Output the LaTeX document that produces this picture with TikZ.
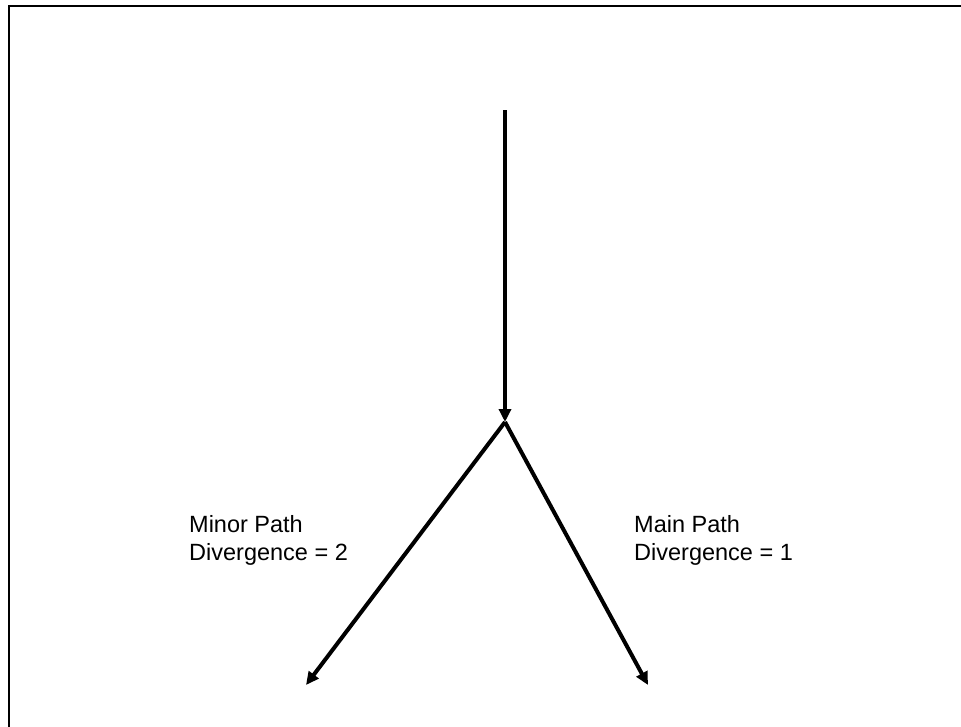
\documentclass[tikz,border=0pt]{standalone}
\usepackage{fontspec}
\setmainfont{Liberation Sans}
\usetikzlibrary{arrows.meta}

\begin{document}
\begin{tikzpicture}[x=1pt,y=1pt,
  flow/.style={line width=4pt,-{Triangle[length=13pt,width=12pt]}},
  label/.style={anchor=north west,inner sep=0pt,align=left,
    font=\fontsize{23.5}{28.5}\selectfont}]

% ----- Canvas -----
\useasboundingbox (0,0) rectangle (961,-726);

% ----- Frame (top and left edges) -----
\draw[line width=2.5pt] (9,-740) -- (9,-6) -- (975,-6);

% ----- Path points -----
\coordinate (src)   at (505,-110);
\coordinate (fork)  at (505,-422);
\coordinate (minor) at (306,-685);
\coordinate (main)  at (648,-685);

% ----- Arrows -----
\draw[flow] (src) -- (fork);
\draw[flow] (fork) -- (minor);
\draw[flow] (fork) -- (main);

% ----- Labels -----
\node[label] (minorlbl) at (189,-515) {Minor Path\\Divergence = 2};
\node[label] (mainlbl)  at (634,-515) {Main Path\\Divergence = 1};

\end{tikzpicture}
\end{document}
